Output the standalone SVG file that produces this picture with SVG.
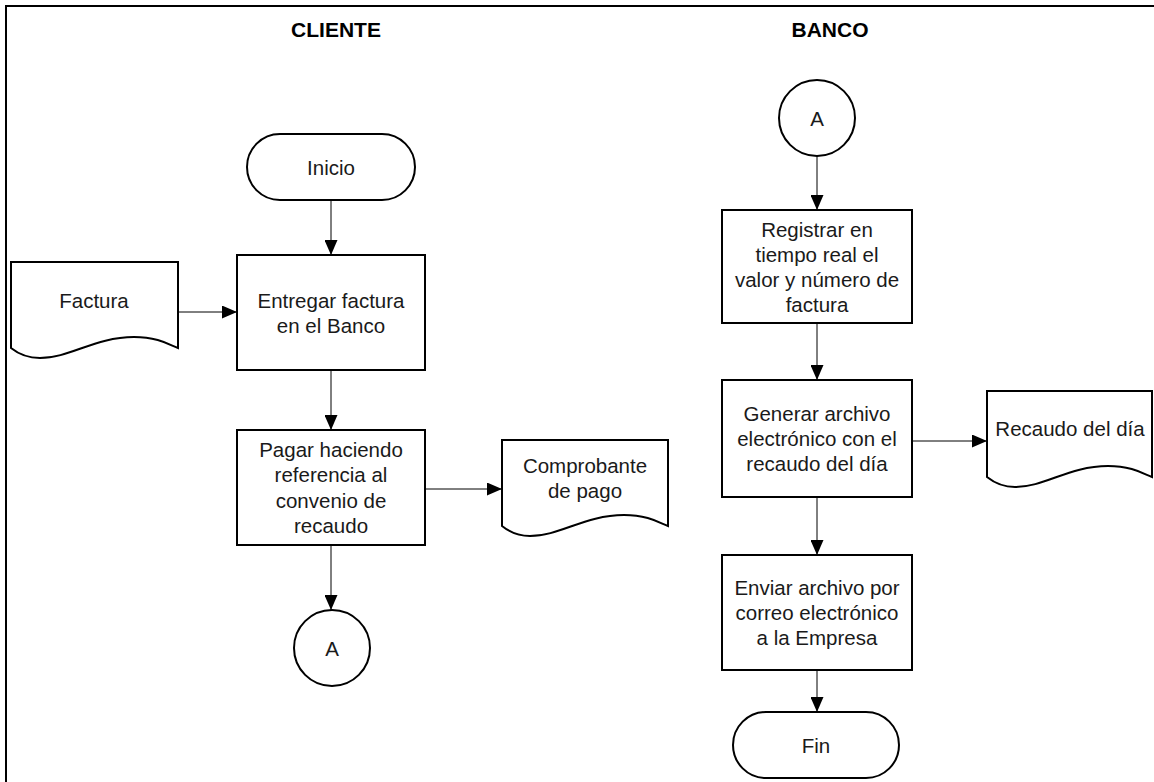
<svg xmlns="http://www.w3.org/2000/svg" width="1154" height="782" viewBox="0 0 1154 782">
<style>
.s{fill:#fff;stroke:#000;stroke-width:2}
.t{font-family:"Liberation Sans",Arial,sans-serif;font-size:20.5px;fill:#1a1a1a;text-anchor:middle;dominant-baseline:central}
.h{font-family:"Liberation Sans",Arial,sans-serif;font-size:21px;font-weight:bold;fill:#000;text-anchor:middle}
.c{fill:none;stroke:#000;stroke-width:1;marker-end:url(#ah)}
</style>
<defs>
<marker id="ah" markerUnits="userSpaceOnUse" markerWidth="15" markerHeight="13" refX="15" refY="6.5" orient="auto">
<path d="M0,0 L15,6.5 L0,13 Z" fill="#000"/>
</marker>
</defs>
<rect width="1154" height="782" fill="#fff"/>
<path d="M6,782 V6 H1154" fill="none" stroke="#000" stroke-width="2"/>
<text class="h" x="336" y="37">CLIENTE</text>
<text class="h" x="830" y="37">BANCO</text>
<g id="connectors">
<line class="c" x1="331" y1="200" x2="331" y2="255"/>
<line class="c" x1="178" y1="312" x2="237" y2="312"/>
<line class="c" x1="331" y1="370" x2="331" y2="430"/>
<line class="c" x1="425" y1="489" x2="502" y2="489"/>
<line class="c" x1="331" y1="545" x2="331" y2="610"/>
<line class="c" x1="817" y1="156" x2="817" y2="210"/>
<line class="c" x1="817" y1="323" x2="817" y2="380"/>
<line class="c" x1="912" y1="441" x2="987" y2="441"/>
<line class="c" x1="817" y1="497" x2="817" y2="555"/>
<line class="c" x1="817" y1="670" x2="817" y2="712"/>
</g>
<g id="inicio">
<rect class="s" x="247" y="134" width="168" height="66" rx="33"/>
<text class="t" x="331" y="167">Inicio</text>
</g>
<g id="factura">
<path class="s" d="M11,262 H178 V348 C170,345 158,337 134,337 C95,337 70,358 40,358 C25,358 16,352 11,348 Z"/>
<text class="t" x="94" y="300">Factura</text>
</g>
<g id="entregar">
<rect class="s" x="237" y="255" width="188" height="115"/>
<text class="t" x="331" y="300">Entregar factura</text>
<text class="t" x="331" y="325">en el Banco</text>
</g>
<g id="pagar">
<rect class="s" x="237" y="430" width="188" height="115"/>
<text class="t" x="331" y="449">Pagar haciendo</text>
<text class="t" x="331" y="474">referencia al</text>
<text class="t" x="331" y="500">convenio de</text>
<text class="t" x="331" y="525">recaudo</text>
</g>
<g id="comprobante">
<path class="s" d="M502,440 H668 V526 C660,523 648,515 624,515 C585,515 560,536 530,536 C515,536 507,530 502,526 Z"/>
<text class="t" x="585" y="465">Comprobante</text>
<text class="t" x="585" y="490">de pago</text>
</g>
<g id="conectorA1">
<circle class="s" cx="332" cy="648" r="38"/>
<text class="t" x="332" y="648">A</text>
</g>
<g id="conectorA2">
<circle class="s" cx="817" cy="118" r="38"/>
<text class="t" x="817" y="118">A</text>
</g>
<g id="registrar">
<rect class="s" x="722" y="210" width="190" height="113"/>
<text class="t" x="817" y="229">Registrar en</text>
<text class="t" x="817" y="254">tiempo real el</text>
<text class="t" x="817" y="279">valor y número de</text>
<text class="t" x="817" y="304">factura</text>
</g>
<g id="generar">
<rect class="s" x="722" y="380" width="190" height="117"/>
<text class="t" x="817" y="413">Generar archivo</text>
<text class="t" x="817" y="438">electrónico con el</text>
<text class="t" x="817" y="463">recaudo del día</text>
</g>
<g id="recaudo">
<path class="s" d="M987,391 H1152 V477 C1144,474 1132,466 1108,466 C1069,466 1045,487 1015,487 C1000,487 992,481 987,477 Z"/>
<text class="t" x="1070" y="428">Recaudo del día</text>
</g>
<g id="enviar">
<rect class="s" x="722" y="555" width="190" height="115"/>
<text class="t" x="817" y="587">Enviar archivo por</text>
<text class="t" x="817" y="612">correo electrónico</text>
<text class="t" x="817" y="637">a la Empresa</text>
</g>
<g id="fin">
<rect class="s" x="733" y="712" width="166" height="66" rx="33"/>
<text class="t" x="816" y="745">Fin</text>
</g>
</svg>
